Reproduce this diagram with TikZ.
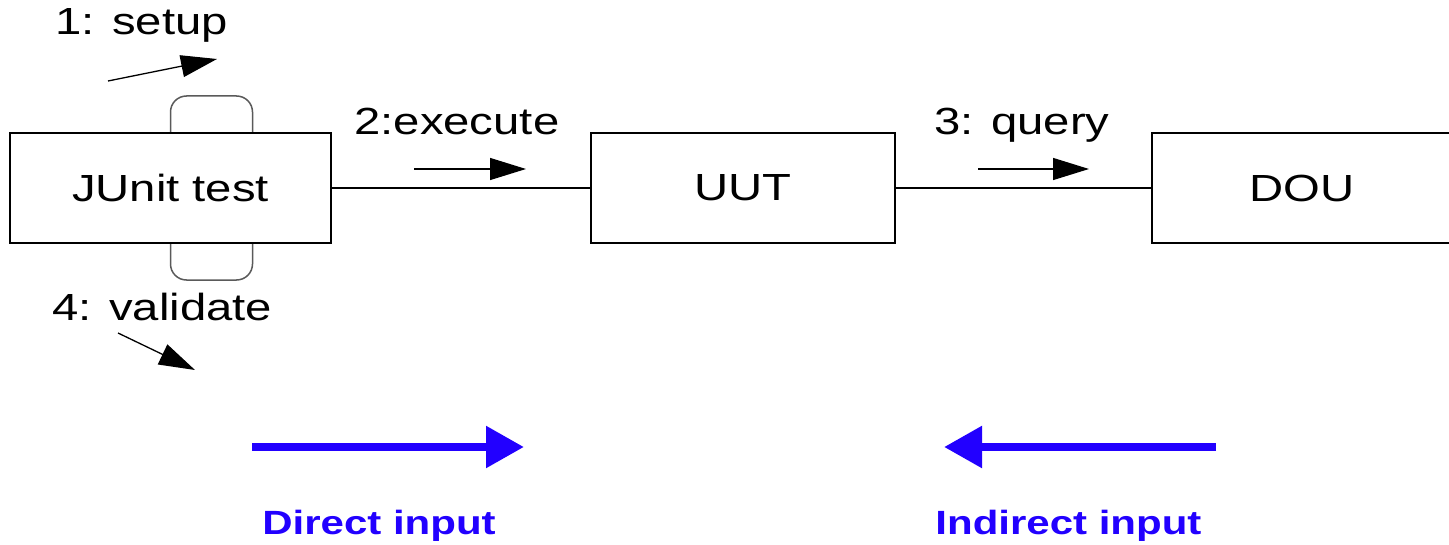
\documentclass[tikz,border=0pt]{standalone}
\usepackage{fontspec}
\usepackage{graphicx}
\setmainfont{Liberation Sans}
\usetikzlibrary{arrows.meta}
\definecolor{diagblue}{RGB}{34,0,255}
\definecolor{loopgray}{RGB}{90,90,90}
\newcommand{\lbl}[1]{\scalebox{1.25}[1]{\fontsize{18.9}{22}\selectfont #1}}
\newcommand{\blbl}[1]{\scalebox{1.25}[1]{\fontsize{16.8}{20}\selectfont\bfseries #1}}
\tikzset{
  box/.style={draw=black, line width=1pt, rectangle, inner sep=0pt, fill=white},
  conn/.style={draw=black, line width=0.75pt},
  loopline/.style={draw=loopgray, line width=0.75pt, rounded corners=8pt},
  msgarrow/.style={draw=black, line width=0.65pt, -{Triangle[length=18pt,width=11pt]}},
  bigarrow/.style={draw=diagblue, line width=4.25pt, -{Triangle[length=19pt,width=20pt]}},
  msglabel/.style={inner sep=0pt, anchor=base west, text=black},
  inlabel/.style={inner sep=0pt, anchor=base west, text=diagblue}
}
\begin{document}
\begin{tikzpicture}[x=0.5pt, y=-0.5pt]
\useasboundingbox (0,0) rectangle (1449,545);
\clip (0,0) rectangle (1449,545);
\fill[white] (0,0) rectangle (1449,545);

% boxes
\node[box, minimum width=160.5pt, minimum height=55pt] (junit) at (170.5,188) {\lbl{JUnit test}};
\node[box, minimum width=152pt, minimum height=55pt] (uut) at (743,188) {\lbl{UUT}};
\node[box, minimum width=150pt, minimum height=55pt] (dou) at (1302,188) {\lbl{DOU}};

% connectors
\draw[conn] (junit) -- (uut);
\draw[conn] (uut) -- (dou);

% self loops on JUnit test
\draw[loopline] (junit.north) -- ++(0,-36) -- ++(82,0) -- ++(0,36);
\draw[loopline] (junit.south) -- ++(0,36) -- ++(82,0) -- ++(0,-36);

% message labels
\node[msglabel] (lsetup) at (55,35) {\lbl{1: setup}};
\node[msglabel] (lexec) at (354,135) {\lbl{2:execute}};
\node[msglabel] (lquery) at (934,135) {\lbl{3: query}};
\node[msglabel] (lvalid) at (52,320) {\lbl{4: validate}};

% message arrows
\coordinate (s1) at (108,81);  \coordinate (s2) at (217,59);
\coordinate (e1) at (414,169); \coordinate (e2) at (526,169);
\coordinate (q1) at (978,169); \coordinate (q2) at (1089,169);
\coordinate (v1) at (118,333); \coordinate (v2) at (195,370);
\draw[msgarrow] (s1) -- (s2);
\draw[msgarrow] (e1) -- (e2);
\draw[msgarrow] (q1) -- (q2);
\draw[msgarrow] (v1) -- (v2);

% input arrows
\coordinate (d1) at (252,447); \coordinate (d2) at (524,447);
\coordinate (i1) at (1216,447); \coordinate (i2) at (944,447);
\draw[bigarrow] (d1) -- (d2);
\draw[bigarrow] (i1) -- (i2);

\node[inlabel] (ldirect) at (262,534) {\blbl{Direct input}};
\node[inlabel] (lindirect) at (935,534) {\blbl{Indirect input}};
\end{tikzpicture}
\end{document}
